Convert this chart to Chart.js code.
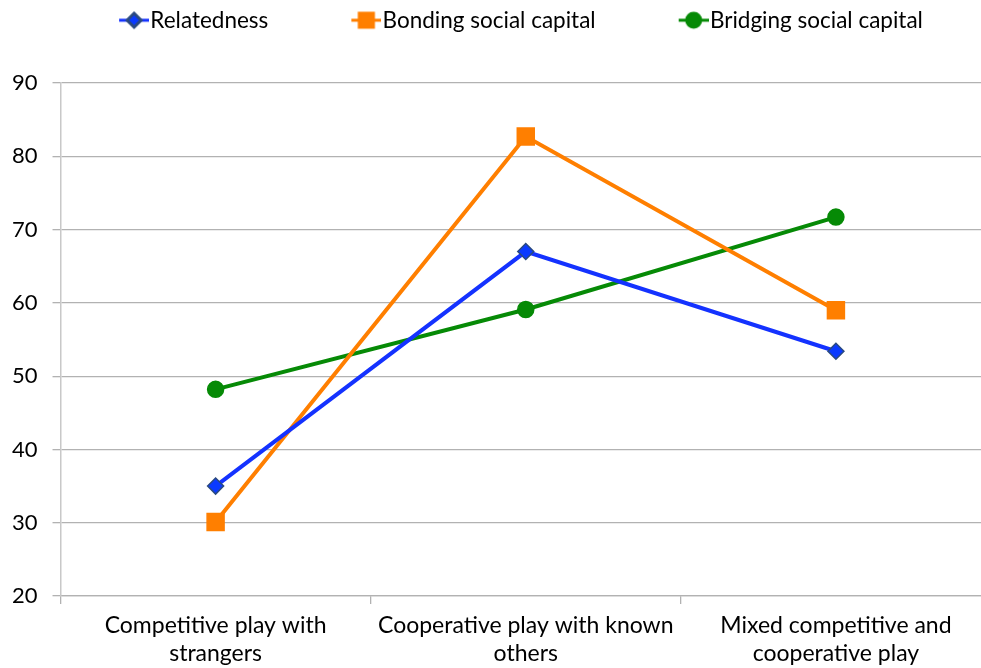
<!DOCTYPE html>
<html>
<head>
<meta charset="utf-8">
<title>Play type and social outcomes</title>
<script src="https://cdn.jsdelivr.net/npm/chart.js@4/dist/chart.umd.min.js"></script>
<style>
  html, body { margin: 0; padding: 0; background: #fff; overflow: hidden; }
  #wrap { width: 981px; height: 668px; overflow: hidden; }
  canvas { display: block; }
</style>
</head>
<body>
<div id="wrap"><canvas id="playChart" width="991" height="668"></canvas></div>
<script>
// Data
const categories = [
  ['Competitive play with', 'strangers'],
  ['Cooperative play with known', 'others'],
  ['Mixed competitive and', 'cooperative play']
];
const relatedness = [35.0, 67.0, 53.4];
const bondingCapital = [30.1, 82.7, 59.0];
const bridgingCapital = [48.2, 59.1, 71.7];
const yTicks = [20, 30, 40, 50, 60, 70, 80, 90];

const seriesStyles = [
  { color: '#1432ff', fill: '#0a3aff', border: '#2a4a80', point: 'rectRot', radius: 8, legendRadius: 7 },
  { color: '#ff7f00', fill: '#ff7f00', border: '#ff7f00', point: 'rect', radius: 12, legendRadius: 10 },
  { color: '#068a06', fill: '#068a06', border: '#068a06', point: 'circle', radius: 8, legendRadius: 7 }
];

// Line + marker swatch for the legend, drawn at the right end of a wide canvas
const BOX_W = 94, ICON_W = BOX_W + 20, ICON_H = 22, SWATCH = 30;
function legendIcon(s) {
  const c = document.createElement('canvas');
  c.width = ICON_W; c.height = ICON_H;
  const g = c.getContext('2d');
  const cy = ICON_H / 2;
  g.strokeStyle = s.color;
  g.lineWidth = 3;
  g.beginPath();
  g.moveTo(ICON_W - SWATCH, cy);
  g.lineTo(ICON_W, cy);
  g.stroke();
  g.fillStyle = s.fill;
  g.strokeStyle = s.border;
  Chart.helpers.drawPoint(g, { pointStyle: s.point, radius: s.legendRadius, borderWidth: 1, rotation: 0 },
    ICON_W - SWATCH / 2, cy);
  return c;
}
const legendIcons = seriesStyles.map(legendIcon);

// Taller legend box, and legend row pulled a little to the left
const LEGEND_HEIGHT = 83;
const LEGEND_SHIFT = -10;
const legendTweaks = {
  id: 'legendTweaks',
  beforeInit(chart) {
    const fit = chart.legend.fit;
    chart.legend.fit = function() {
      fit.bind(chart.legend)();
      this.height = LEGEND_HEIGHT;
    };
  },
  afterLayout(chart) {
    chart.legend.left += LEGEND_SHIFT;
    chart.legend.right += LEGEND_SHIFT;
  }
};

function makeDataset(label, data, s) {
  return {
    label: label,
    data: data,
    borderColor: s.color,
    backgroundColor: s.color,
    borderWidth: 4,
    tension: 0,
    pointStyle: s.point,
    pointRadius: s.radius,
    pointHoverRadius: s.radius,
    pointBackgroundColor: s.fill,
    pointBorderColor: s.border,
    pointBorderWidth: 1.5
  };
}

const gridColor = '#b2b2b2';
const fontFamily = 'Lato, "Open Sans", sans-serif';

new Chart(document.getElementById('playChart'), {
  type: 'line',
  data: {
    labels: categories,
    datasets: [
      makeDataset('Relatedness', relatedness, seriesStyles[0]),
      makeDataset('Bonding social capital', bondingCapital, seriesStyles[1]),
      makeDataset('Bridging social capital', bridgingCapital, seriesStyles[2])
    ]
  },
  options: {
    responsive: false,
    animation: false,
    devicePixelRatio: 1,
    // tick padding is counted twice when axes are sized, hence the negative edges
    layout: { autoPadding: false, padding: { left: -3, right: 0, top: 0, bottom: -7 } },
    plugins: {
      tooltip: { enabled: false },
      legend: {
        position: 'top',
        labels: {
          usePointStyle: true,
          pointStyleWidth: BOX_W,
          padding: 9,
          color: '#000',
          font: { family: fontFamily, size: 22.5 },
          generateLabels(chart) {
            return Chart.defaults.plugins.legend.labels.generateLabels(chart).map((item, i) => {
              item.pointStyle = legendIcons[i];
              return item;
            });
          }
        }
      }
    },
    scales: {
      x: {
        offset: true,
        grid: { offset: true, drawOnChartArea: false, tickLength: 8, color: gridColor, lineWidth: 1.3 },
        border: { color: gridColor, width: 1.3 },
        ticks: {
          padding: 7.5,
          color: '#000',
          maxRotation: 0,
          autoSkip: false,
          font: { family: fontFamily, size: 23, lineHeight: 1.217 }
        }
      },
      y: {
        min: yTicks[0],
        max: yTicks[yTicks.length - 1],
        afterBuildTicks(axis) {
          axis.ticks = yTicks.map(v => ({ value: v }));
        },
        grid: { color: gridColor, lineWidth: 1.3, tickLength: 8 },
        border: { color: '#c8c8c8', width: 1.5 },
        ticks: {
          padding: 15,
          color: '#000',
          font: { family: fontFamily, size: 22 }
        }
      }
    }
  },
  plugins: [legendTweaks]
});
</script>
</body>
</html>
